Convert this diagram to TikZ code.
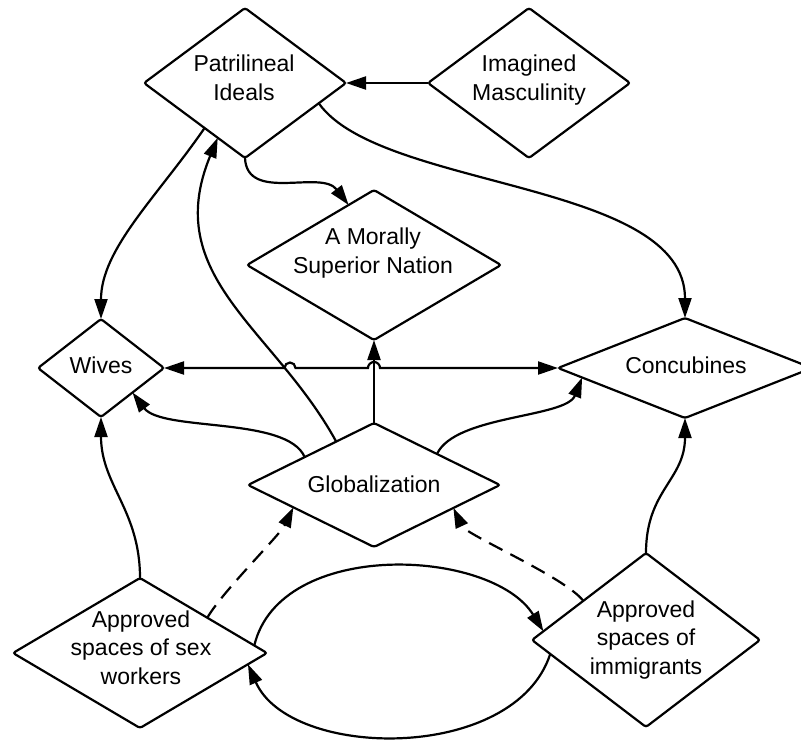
\documentclass[tikz,border=0pt]{standalone}
\usepackage{fontspec}
\setmainfont{Liberation Sans}
\usetikzlibrary{shapes.geometric,arrows.meta,calc}
\begin{document}
\begin{tikzpicture}[x=1pt,y=-1pt,
  >={Triangle[length=20pt,width=13pt]},
  box/.style={draw, diamond, inner sep=0pt, outer sep=0pt, rounded corners=2.5pt, line width=2.2pt},
  lbl/.style={anchor=base, align=center, inner sep=0pt, font=\fontsize{23}{28.5}\selectfont},
  link/.style={->, line width=2.2pt},
  dlink/.style={link, dash pattern=on 15pt off 9pt}]
\useasboundingbox (0,0) rectangle (801,740);
\clip (0,0) rectangle (801,740);

% concept diamonds
\node[box, minimum width=202pt, minimum height=150pt] (pi) at (245,83) {};
\node[box, minimum width=202pt, minimum height=150pt] (im) at (529,83) {};
\node[box, minimum width=254pt, minimum height=150pt] (ms) at (374,265) {};
\node[box, minimum width=126pt, minimum height=98pt]  (wv) at (101,368) {};
\node[box, minimum width=254pt, minimum height=100pt] (cc) at (685,368) {};
\node[box, minimum width=252pt, minimum height=124pt] (gl) at (374,485) {};
\node[box, minimum width=254pt, minimum height=150pt] (sw) at (140,653) {};
\node[box, minimum width=228pt, minimum height=174pt] (ig) at (646,640) {};

% labels (base anchor sits on the last line)
\node[lbl] (pi-t) at (244,100) {Patrilineal\\Ideals};
\node[lbl] (im-t) at (529,100) {Imagined\\Masculinity};
\node[lbl] (ms-t) at (373,273) {A Morally\\Superior Nation};
\node[lbl] (wv-t) at (101,373) {Wives};
\node[lbl] (cc-t) at (686,373) {Concubines};
\node[lbl] (gl-t) at (374,492) {Globalization};
\node[lbl] (sw-t) at (141,684) {Approved\\spaces of sex\\workers};
\node[lbl] (ig-t) at (646,674) {Approved\\spaces of\\immigrants};

% connectors
\draw[link] (im.west) -- (pi.east);
\draw[link] ($(pi.south)!0.4!(pi.west)$) .. controls (157,197) and (101,249) .. (wv.north);
\draw[link] (pi.south) .. controls (247,203) and (321,169) .. ($(ms.north)!0.2!(ms.west)$);
\draw[link] ($(pi.east)!0.27!(pi.south)$) .. controls (380,190) and (685,180) .. (cc.north);
\draw[link] ($(gl.north)!0.3!(gl.west)$) .. controls (274,328) and (160,277) .. ($(pi.south)!0.27!(pi.west)$);
\draw[<->, line width=2.2pt] (wv.east) -- (284.5,368)
  arc[start angle=180, end angle=0, radius=5.5pt] -- (368,368)
  arc[start angle=180, end angle=0, radius=6pt] -- (cc.west);
\draw[link] ($(gl.north)!0.55!(gl.west)$) .. controls (287,416) and (162,432) .. ($(wv.east)!0.5!(wv.south)$);
\draw[link] ($(gl.north)!0.5!(gl.east)$) .. controls (455,415) and (566,418) .. ($(cc.west)!0.19!(cc.south)$);
\draw[link] (gl.north) -- (ms.south);
\draw[link] (sw.north) .. controls (140,510) and (101,485) .. (wv.south);
\draw[link] (ig.north) .. controls (646,490) and (685,480) .. (cc.south);
\draw[dlink] ($(sw.north)!0.53!(sw.east)$) .. controls (222,592) and (280,535) .. ($(gl.west)!0.36!(gl.south)$);
\draw[dlink] ($(ig.north)!0.55!(ig.west)$) .. controls (565,577) and (466,535) .. ($(gl.east)!0.37!(gl.south)$);
\draw[link] ($(sw.east)!0.1!(sw.north)$) .. controls (280,538) and (492,548) .. ($(ig.west)!0.1!(ig.north)$);
\draw[link] ($(ig.west)!0.16!(ig.south)$) .. controls (515,763) and (290,760) .. ($(sw.east)!0.15!(sw.south)$);
\end{tikzpicture}
\end{document}
